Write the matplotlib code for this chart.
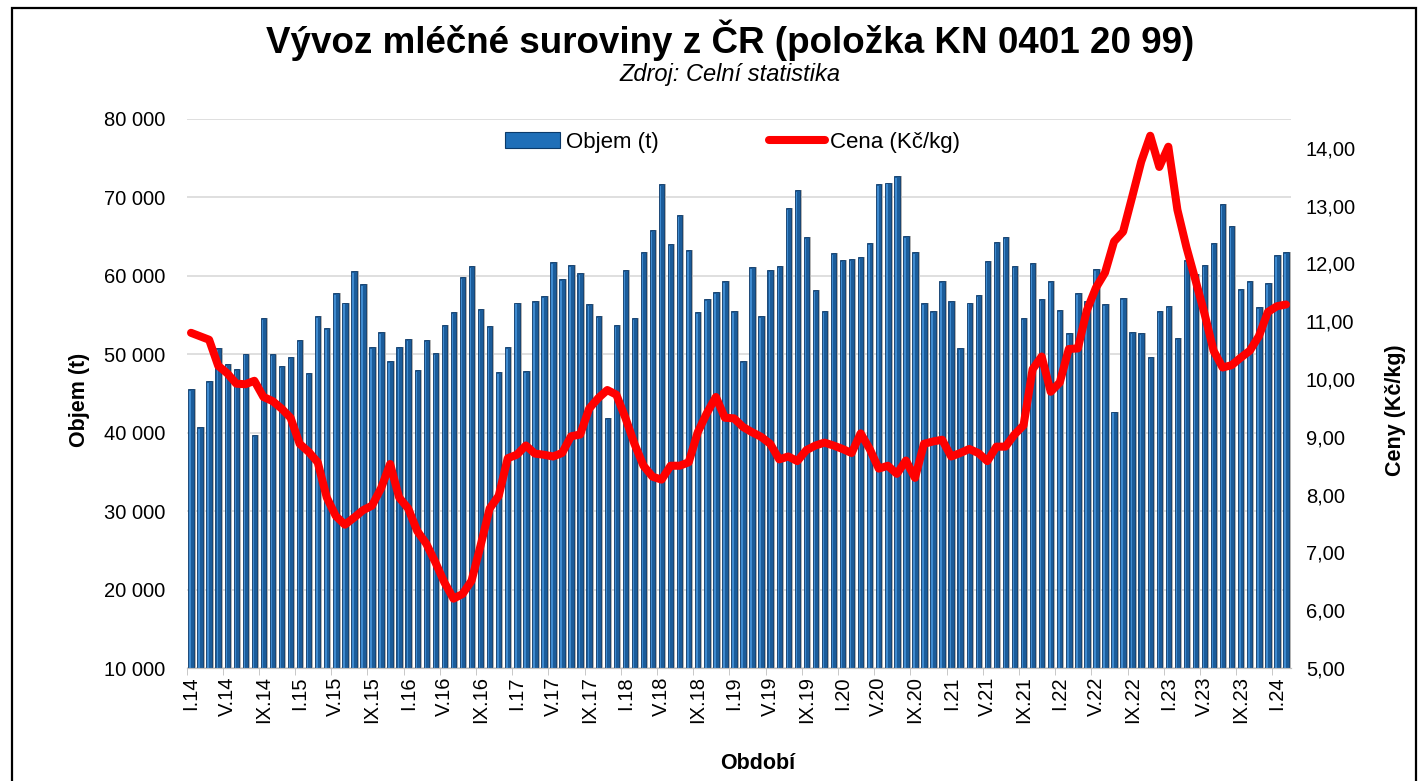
"""
plot.py - export of raw milk from CZ (KN 0401 20 99): monthly volume bars + price line.
Saves out.png.
"""
import matplotlib
matplotlib.use("Agg")
import matplotlib.pyplot as plt
from matplotlib.lines import Line2D
from matplotlib.patches import Patch, Rectangle
from matplotlib.ticker import FuncFormatter

plt.rcParams["font.family"] = ["Liberation Sans", "DejaVu Sans"]

ROMAN = ["I", "II", "III", "IV", "V", "VI", "VII", "VIII", "IX", "X", "XI", "XII"]
YEARS = list(range(14, 25))

# monthly export volume (t), I.14 .. II.24
volume = [
    45600, 40700, 46600, 50800, 48700, 48100, 50100, 39700, 54600, 50000, 48500, 49600,
    51800, 47600, 54900, 53400, 57800, 56600, 60600, 59000, 50900, 52900, 49200, 50900,
    52000, 48000, 51800, 50200, 53700, 55400, 59900, 61200, 55800, 53600, 47800, 50900,
    56600, 47900, 56800, 57400, 61800, 59600, 61400, 60400, 56400, 54900, 41900, 53700,
    60700, 54600, 63100, 65900, 71700, 64000, 67700, 63300, 55400, 57100, 58000, 59300,
    55500, 49200, 61100, 54900, 60800, 61200, 68700, 71000, 65000, 58200, 55500, 62900,
    62000, 62200, 62400, 64200, 71700, 71900, 72700, 65100, 63000, 56500, 55500, 59300,
    56800, 50800, 56600, 57600, 61900, 64300, 65000, 61300, 54600, 61600, 57000, 59300,
    55600, 52700, 57800, 56800, 60900, 56400, 42700, 57200, 52900, 52700, 49700, 55500,
    56100, 52100, 62000, 60300, 61400, 64200, 69200, 66400, 58300, 59400, 56000, 59100,
    62700, 63000,
]

# monthly price (Kc/kg)
price = [
    10.80, 10.74, 10.68, 10.23, 10.10, 9.92, 9.91, 9.97, 9.69, 9.62, 9.49, 9.33,
    8.88, 8.74, 8.56, 7.95, 7.63, 7.48, 7.60, 7.73, 7.81, 8.11, 8.53, 7.95,
    7.76, 7.37, 7.15, 6.83, 6.48, 6.20, 6.28, 6.51, 7.12, 7.76, 7.98, 8.63,
    8.69, 8.85, 8.71, 8.69, 8.66, 8.72, 9.01, 9.04, 9.49, 9.67, 9.81, 9.73,
    9.33, 8.88, 8.50, 8.31, 8.26, 8.50, 8.50, 8.56, 9.08, 9.41, 9.69, 9.33,
    9.32, 9.17, 9.08, 9.00, 8.88, 8.61, 8.66, 8.58, 8.77, 8.85, 8.90, 8.85,
    8.79, 8.72, 9.06, 8.79, 8.45, 8.50, 8.36, 8.59, 8.29, 8.88, 8.92, 8.95,
    8.66, 8.72, 8.79, 8.72, 8.58, 8.83, 8.83, 9.04, 9.20, 10.17, 10.39, 9.78,
    9.94, 10.52, 10.53, 11.19, 11.58, 11.84, 12.38, 12.55, 13.15, 13.76, 14.21, 13.67,
    14.02, 12.93, 12.28, 11.71, 11.13, 10.49, 10.20, 10.24, 10.37, 10.49, 10.74, 11.16,
    11.26, 11.29,
]

periods = [f"{ROMAN[m]}.{y}" for y in YEARS for m in range(12)][:len(volume)]

BLUE = "#1b5c9a"
BLUE_DARK = "#0b3a6a"
BLUE_LIGHT = "#3f8bd0"
SHADOW = "#b4b4b4"
TICK_FS = 14.5


def main():
    fig = plt.figure(figsize=(14.21, 7.81), dpi=100)
    ax = fig.add_axes([186.5 / 1421, 1 - 668 / 781, 1104 / 1421, 549 / 781])
    ax2 = ax.twinx()

    x = list(range(len(volume)))
    # grey drop shadow, then the bar, then a light highlight strip
    ax.bar([i + 0.22 for i in x], volume, width=0.6, color=SHADOW, zorder=2)
    ax.bar(x, volume, width=0.6, color=BLUE, edgecolor=BLUE_DARK, linewidth=0.6, zorder=3)
    ax.bar([i - 0.1 for i in x], [v - 250 for v in volume], width=0.16,
           color=BLUE_LIGHT, linewidth=0, zorder=4)

    ax2.plot(x, price, color="#ff0000", lw=5.8, solid_joinstyle="round",
             solid_capstyle="round", zorder=5)

    ax.set_xlim(-0.5, len(volume) - 0.5)
    ax.set_ylim(10000, 80000)
    ax2.set_ylim(5, 14.5)
    ax.set_yticks(range(10000, 80001, 10000))
    ax2.set_yticks(range(5, 15))
    ax.yaxis.set_major_formatter(FuncFormatter(lambda v, p: f"{int(v):,}".replace(",", " ")))
    ax2.yaxis.set_major_formatter(FuncFormatter(lambda v, p: f"{v:.2f}".replace(".", ",")))
    ax.grid(axis="y", color="#d9d9d9", lw=1.2, zorder=0)
    ax.set_axisbelow(True)

    lab_idx = x[::4]
    ax.set_xticks(lab_idx)
    ax.set_xticklabels([periods[i] for i in lab_idx], rotation=90, fontsize=TICK_FS)
    ax.set_xticks([i - 0.5 for i in lab_idx], minor=True)
    ax.tick_params(axis="x", which="major", length=0, pad=6)
    ax.tick_params(axis="x", which="minor", length=5, color="#bfbfbf")
    ax.tick_params(axis="y", length=0, pad=15, labelsize=TICK_FS)
    ax2.tick_params(axis="y", length=0, pad=11, labelsize=TICK_FS)

    for a in (ax, ax2):
        for s in ("top", "left", "right"):
            a.spines[s].set_visible(False)
        a.spines["bottom"].set_color("#bfbfbf")

    fig.text(0.514, 0.949, "Vývoz mléčné suroviny z ČR (položka KN 0401 20 99)",
             ha="center", va="center", fontsize=26.5, fontweight="bold")
    fig.text(0.514, 0.904, "Zdroj: Celní statistika", ha="center", va="center",
             fontsize=17, style="italic")
    fig.text(0.533, 0.023, "Období", ha="center", va="center", fontsize=15.5, fontweight="bold")
    fig.text(0.056, 0.488, "Objem (t)", ha="center", va="center", rotation=90,
             fontsize=15.5, fontweight="bold")
    fig.text(0.982, 0.475, "Ceny (Kč/kg)", ha="center", va="center", rotation=90,
             fontsize=15.5, fontweight="bold")

    handles = [Patch(facecolor="#1f6fb8", edgecolor=BLUE_DARK, linewidth=0.8),
               Line2D([], [], color="#ff0000", lw=5.8, solid_capstyle="round")]
    ax2.legend(handles, ["Objem (t)", "Cena (Kč/kg)"], loc="center",
               bbox_to_anchor=(0.4946, 0.958), ncol=2, frameon=False, fontsize=16,
               handlelength=2.5, handleheight=0.7, handletextpad=0.23, columnspacing=5.0)

    # black frame around the whole chart
    fig.patches.append(Rectangle((12 / 1421, -0.02), 1404 / 1421, 1.02 - 8 / 781,
                                 transform=fig.transFigure, fill=False,
                                 edgecolor="black", lw=1.6))

    fig.savefig("out.png", dpi=100)


if __name__ == "__main__":
    main()
